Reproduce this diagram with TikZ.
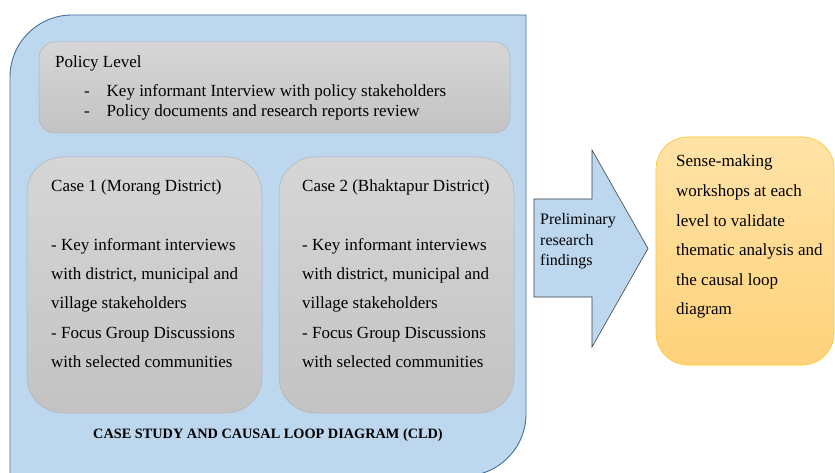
\documentclass[tikz,border=0pt]{standalone}
\usepackage{fontspec}
\setmainfont{Liberation Serif}
\definecolor{bluefill}{RGB}{189,215,238}
\definecolor{blueline}{RGB}{65,113,156}
\definecolor{graytop}{RGB}{214,214,214}
\definecolor{graybot}{RGB}{195,195,195}
\definecolor{grayline}{RGB}{178,178,178}
\definecolor{orangetop}{RGB}{255,227,167}
\definecolor{orangebot}{RGB}{255,210,122}
\definecolor{orangeline}{RGB}{255,196,40}
\begin{document}
\begin{tikzpicture}[x=1pt,y=-1pt,
  txt/.style={inner sep=0pt, anchor=base west, font=\fontsize{17}{20}\selectfont},
  smalltxt/.style={inner sep=0pt, anchor=base west, font=\fontsize{16}{19}\selectfont},
  titletxt/.style={inner sep=0pt, anchor=base, font=\bfseries\fontsize{14.3}{17}\selectfont},
  graybox/.style={draw=grayline, line width=0.5pt, top color=graytop, bottom color=graybot, inner sep=0pt},
  orangebox/.style={draw=orangeline, line width=0.6pt, top color=orangetop, bottom color=orangebot, inner sep=0pt, rounded corners=32pt},
  bigshape/.style={fill=bluefill, draw=blueline, line width=0.9pt},
  blockarrow/.style={fill=bluefill, draw=black!75, line width=0.6pt, line join=miter}
]
\useasboundingbox (0,0) rectangle (835,473);
\fill[white] (0,0) rectangle (835,473);

% big blue container
\draw[bigshape] (10,478) -- (10,77) .. controls (10,42.8) and (37.8,15) .. (72,15)
  -- (526,15) -- (526,414) .. controls (526,448.2) and (498.2,476) .. (464,476) -- (464,478) -- cycle;

% policy box
\node[graybox, rounded corners=16pt, minimum width=471pt, minimum height=91pt] (policy) at (274.5,87.5) {};
\node[txt] (pl0) at (55,68) {Policy Level};
\node[txt] (pd1) at (84,97) {-};
\node[txt] (pl1) at (106.5,97) {Key informant Interview with policy stakeholders};
\node[txt] (pd2) at (84,117) {-};
\node[txt] (pl2) at (106.5,117) {Policy documents and research reports review};

% case boxes
\node[graybox, rounded corners=36pt, minimum width=235pt, minimum height=256pt] (case1) at (144.5,285) {};
\node[graybox, rounded corners=36pt, minimum width=235pt, minimum height=256pt] (case2) at (396.5,285) {};

\node[txt] (c1t) at (51,192) {Case 1 (Morang District)};
\node[txt] (c2t) at (302,192) {Case 2 (Bhaktapur District)};
\foreach \t [count=\i] in {- Key informant interviews, {with district, municipal and}, village stakeholders, - Focus Group Discussions, with selected communities}{
  \node[txt] (c1l\i) at (51,{250+29.4*(\i-1)}) {\t};
  \node[txt] (c2l\i) at (302,{250+29.4*(\i-1)}) {\t};
}

\node[titletxt] (cldtitle) at (268,438) {CASE STUDY AND CAUSAL LOOP DIAGRAM (CLD)};

% block arrow
\draw[blockarrow] (534,199) -- (592,199) -- (592,150) -- (648,248.5) -- (592,347) -- (592,297) -- (534,297) -- cycle;
\node[smalltxt] (a1) at (540,225) {Preliminary};
\node[smalltxt] (a2) at (540,245) {research};
\node[smalltxt] (a3) at (540,265) {findings};

% orange box
\node[orangebox, minimum width=178pt, minimum height=228pt] (sense) at (745,251) {};
\foreach \t [count=\i] in {Sense-making, workshops at each, level to validate, thematic analysis and, the causal loop, diagram}{
  \node[txt] (s\i) at (676,{167+29.5*(\i-1)}) {\t};
}
\end{tikzpicture}
\end{document}
